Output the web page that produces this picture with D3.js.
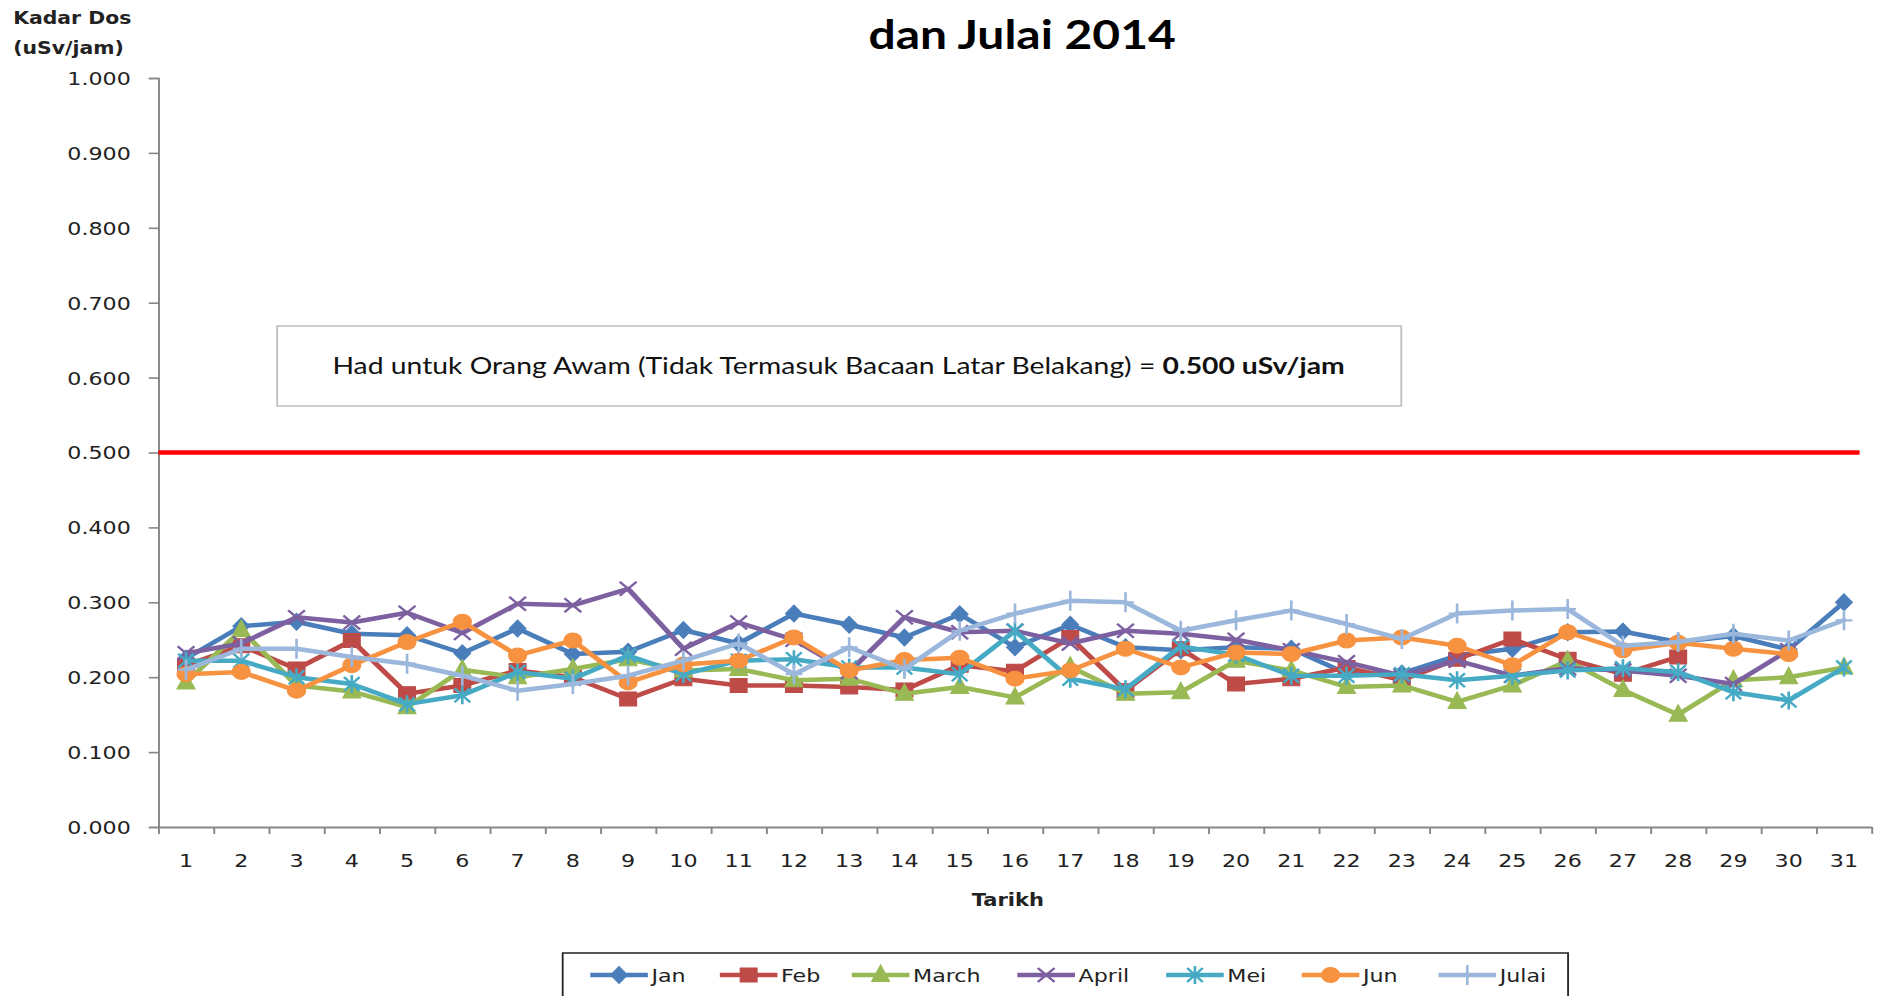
<!DOCTYPE html>
<html><head><meta charset="utf-8">
<script src="https://cdn.jsdelivr.net/npm/d3@7"></script>
<style>html,body{margin:0;padding:0;background:#fff;overflow:hidden}</style>
</head><body>
<svg id="chart" width="1880" height="996" viewBox="0 0 1567 996" preserveAspectRatio="none"></svg>
<script>
// ---------------- DATA ----------------
const days = ["1","2","3","4","5","6","7","8","9","10","11","12","13","14","15","16","17","18","19","20","21","22","23","24","25","26","27","28","29","30","31"];
const yTicks = [0.0,0.1,0.2,0.3,0.4,0.5,0.6,0.7,0.8,0.9,1.0];
const seriesNames = ["Jan","Feb","March","April","Mei","Jun","Julai"];
const jan   = [0.225,0.268,0.274,0.258,0.256,0.232,0.265,0.231,0.234,0.263,0.245,0.285,0.270,0.253,0.284,0.240,0.270,0.240,0.236,0.240,0.238,0.205,0.205,0.229,0.238,0.260,0.261,0.247,0.255,0.237,0.300];
const feb   = [0.216,0.242,0.211,0.249,0.178,0.189,0.209,0.200,0.171,0.198,0.189,0.189,0.187,0.183,0.216,0.208,0.253,0.182,0.238,0.191,0.198,0.213,0.196,0.224,0.251,0.224,0.204,0.227];
const march = [0.193,0.263,0.189,0.181,0.160,0.210,0.200,0.211,0.224,0.209,0.211,0.196,0.198,0.178,0.187,0.173,0.214,0.178,0.180,0.222,0.209,0.187,0.189,0.167,0.189,0.222,0.183,0.150,0.196,0.200,0.213];
const april = [0.232,0.245,0.280,0.273,0.286,0.259,0.298,0.296,0.318,0.238,0.273,0.250,0.207,0.280,0.260,0.262,0.245,0.262,0.258,0.250,0.236,0.220,0.202,0.222,0.202,0.212,0.209,0.202,0.191,0.236];
const mei   = [0.222,0.222,0.200,0.191,0.164,0.176,0.207,0.198,0.229,0.204,0.222,0.224,0.213,0.213,0.204,0.262,0.198,0.184,0.241,0.230,0.202,0.202,0.204,0.196,0.202,0.209,0.212,0.207,0.180,0.169,0.213];
const jun   = [0.204,0.207,0.182,0.216,0.247,0.274,0.229,0.249,0.193,0.217,0.222,0.253,0.209,0.223,0.226,0.198,0.209,0.238,0.213,0.233,0.231,0.249,0.253,0.242,0.216,0.260,0.236,0.246,0.238,0.231];
const julai = [0.210,0.238,0.238,0.227,0.218,0.202,0.182,0.191,0.202,0.222,0.245,0.204,0.240,0.211,0.262,0.285,0.302,0.300,0.262,0.276,0.289,0.271,0.251,0.285,0.289,0.291,0.242,0.247,0.258,0.249,0.276];
const limitValue = 0.5;
const titleLines = ["Bacaan Kadar Dos Sinaran di Kawasan Pemantauan bagi Bulan Januari, Februari, Mac, April, Mei, Jun", "dan Julai 2014"];
const yAxisTitle = ["Kadar Dos", "(uSv/jam)"];
const xAxisTitle = "Tarikh";
const noteText = "Had untuk Orang Awam (Tidak Termasuk Bacaan Latar Belakang) = ";
const noteBold = "0.500 uSv/jam";

// ---------------- STYLE ----------------
const seriesValues = [jan, feb, march, april, mei, jun, julai];
const colors = ["#4a7ebb","#be4b48","#98b954","#7d60a0","#46aac5","#f69240","#9bb7dc"];
const markerTypes = ["diamond","square","triangle","x","star","circle","plus"];

const svg = d3.select("#chart");
const M = {left:132, right:1560, top:78, bottom:827};
const x = d3.scaleBand().domain(days).range([M.left, M.right]);
const xb = d3.scaleLinear().domain([0, days.length]).range([M.left, M.right]);
const y = d3.scaleLinear().domain([0, 1]).range([M.bottom, M.top]);

const axisColor = "#868686";
const tickFont = "'DejaVu Sans', Verdana, sans-serif";

// Y axis
const yAxis = svg.append("g").attr("transform", `translate(${M.left},0)`)
  .call(d3.axisLeft(y).tickValues(yTicks).tickFormat(d3.format(".3f")).tickSize(8).tickPadding(15));
yAxis.select(".domain").attr("stroke", axisColor).attr("stroke-width", 1.6);
yAxis.selectAll(".tick line").attr("stroke", axisColor).attr("stroke-width", 1.6);
yAxis.selectAll(".tick text").attr("font-family", tickFont).attr("font-size", 18.5).attr("fill", "#222").attr("dy", "0.35em");

// X axis: boundary ticks
const xTickAxis = svg.append("g").attr("transform", `translate(0,${M.bottom})`)
  .call(d3.axisBottom(xb).tickValues(d3.range(0, days.length + 1)).tickFormat("").tickSize(7).tickSizeOuter(0));
xTickAxis.select(".domain").attr("stroke", axisColor).attr("stroke-width", 2);
xTickAxis.selectAll(".tick line").attr("stroke", axisColor).attr("stroke-width", 1.6);
// X labels
const xLab = svg.append("g").attr("transform", `translate(0,${M.bottom})`)
  .call(d3.axisBottom(x).tickSize(0).tickPadding(27));
xLab.select(".domain").remove();
xLab.selectAll(".tick text").attr("font-family", tickFont).attr("font-size", 18.5).attr("fill", "#222");

// Axis titles
svg.append("text").attr("x", M.left + (M.right - M.left)/2 - 6).attr("y", 906)
  .attr("text-anchor", "middle").attr("font-family", tickFont).attr("font-weight", "bold")
  .attr("font-size", 17.5).attr("fill", "#222").text(xAxisTitle);
svg.append("g").selectAll("text").data(yAxisTitle).join("text")
  .attr("x", 11).attr("y", (d,i) => 24 + i*30)
  .attr("font-family", tickFont).attr("font-weight", "bold").attr("font-size", 17)
  .attr("fill", "#222").text(d => d);

// Title (first line is clipped at the top edge, as in the reference)
svg.append("text").attr("x", 1552).attr("y", -9).attr("text-anchor", "end")
  .attr("font-family", "Lato, 'Liberation Sans', sans-serif").attr("font-weight", "bold").attr("font-size", 40)
  .attr("fill", "#000").text(titleLines[0]);
svg.append("text").attr("x", 852).attr("y", 49).attr("text-anchor", "middle")
  .attr("font-family", "Lato, 'Liberation Sans', sans-serif").attr("font-weight", "bold").attr("font-size", 40)
  .attr("fill", "#000").text(titleLines[1]);

// Note box
svg.append("rect").attr("x", 231).attr("y", 326).attr("width", 937).attr("height", 80)
  .attr("fill", "#fff").attr("stroke", "#bfbfbf").attr("stroke-width", 1.5);
const note = svg.append("text").attr("x", 699).attr("y", 374).attr("text-anchor", "middle")
  .attr("font-family", "Lato, 'Liberation Sans', sans-serif").attr("font-size", 22).attr("fill", "#111");
note.append("tspan").text(noteText);
note.append("tspan").attr("font-weight", "bold").text(noteBold);
const nl = note.node().getComputedTextLength();
note.attr("font-size", 22 * 844 / nl);

// Limit line
svg.append("line").attr("x1", M.left).attr("x2", 1550).attr("y1", y(limitValue)).attr("y2", y(limitValue))
  .attr("stroke", "#ff0000").attr("stroke-width", 4.5);

// Markers
function markerPath(type) {
  switch (type) {
    case "diamond": return "M0,-8.5L7,0L0,8.5L-7,0Z";
    case "square": return "M-7,-7L7,-7L7,7L-7,7Z";
    case "triangle": return "M0,-10L7.5,6.5L-7.5,6.5Z";
    case "x": return "M-7,-7L7,7M-7,7L7,-7";
    case "star": return "M-6.5,-7L6.5,7M-6.5,7L6.5,-7M0,-9L0,9";
    case "plus": return "M0,-10L0,10M-7,0L7,0";
    default: return null;
  }
}
function drawMarker(g, type, color) {
  if (type === "circle") {
    g.append("circle").attr("r", 7.5).attr("fill", color).attr("stroke", color).attr("stroke-width", 1);
  } else if (type === "x" || type === "star" || type === "plus") {
    g.append("path").attr("d", markerPath(type)).attr("fill", "none").attr("stroke", color).attr("stroke-width", 2.2);
  } else {
    g.append("path").attr("d", markerPath(type)).attr("fill", color).attr("stroke", color).attr("stroke-width", 1);
  }
}

const line = d3.line().x((d,i) => x(days[i]) + x.bandwidth()/2).y(d => y(d));
seriesValues.forEach((vals, s) => {
  const g = svg.append("g");
  g.append("path").attr("d", line(vals)).attr("fill", "none").attr("stroke", colors[s])
    .attr("stroke-width", 4.5).attr("stroke-linejoin", "round").attr("stroke-linecap", "round");
  vals.forEach((v, i) => {
    const mg = g.append("g").attr("transform", `translate(${x(days[i]) + x.bandwidth()/2},${y(v)})`);
    drawMarker(mg, markerTypes[s], colors[s]);
  });
});

// Legend
svg.append("rect").attr("x", 469).attr("y", 953).attr("width", 838).attr("height", 60)
  .attr("fill", "#fff").attr("stroke", "#222").attr("stroke-width", 1.5);
const legendX = [492, 600, 710, 848, 972, 1085, 1199];
const lg = svg.append("g");
seriesNames.forEach((name, s) => {
  const g = lg.append("g").attr("transform", `translate(${legendX[s]},975)`);
  g.append("line").attr("x1", 0).attr("x2", 48).attr("y1", 0).attr("y2", 0)
    .attr("stroke", colors[s]).attr("stroke-width", 4.5);
  const mg = g.append("g").attr("transform", "translate(24,0)");
  drawMarker(mg, markerTypes[s], colors[s]);
  g.append("text").attr("x", 51).attr("y", 0).attr("dy", "0.36em")
    .attr("font-family", tickFont).attr("font-size", 18.5).attr("fill", "#222").text(name);
});
</script>
</body></html>
